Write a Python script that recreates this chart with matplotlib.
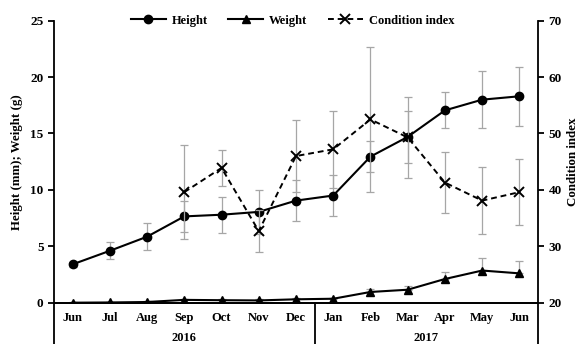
import numpy as np
import matplotlib.pyplot as plt

plt.rcParams['font.family'] = ['Liberation Serif', 'DejaVu Serif']
plt.rcParams['font.weight'] = 'bold'

# data
months = ['Jun', 'Jul', 'Aug', 'Sep', 'Oct', 'Nov', 'Dec',
          'Jan', 'Feb', 'Mar', 'Apr', 'May', 'Jun']
years = ['2016', '2017']
year_len = [7, 6]

height = [3.4, 4.6, 5.85, 7.65, 7.8, 8.05, 9.05, 9.5, 12.95, 14.7, 17.05, 18.0, 18.3]
height_err = [0.2, 0.77, 1.2, 1.35, 1.6, 1.95, 1.8, 1.8, 1.4, 2.3, 1.6, 2.5, 2.6]

weight = [0.0, 0.02, 0.06, 0.25, 0.22, 0.2, 0.3, 0.35, 0.95, 1.15, 2.1, 2.85, 2.6]
weight_err = [0.02, 0.02, 0.05, 0.1, 0.1, 0.1, 0.1, 0.1, 0.3, 0.33, 0.58, 1.1, 1.14]

cond = [np.nan, np.nan, np.nan, 39.6, 43.9, 32.7, 46.0, 47.2, 52.5, 49.3, 41.3, 38.1, 39.6]
cond_err = [np.nan, np.nan, np.nan, 8.3, 3.25, 3.7, 6.4, 6.8, 12.9, 7.2, 5.4, 5.9, 5.8]

x = np.arange(len(months))

fig = plt.figure(figsize=(5.78, 3.44), dpi=100)
ax = fig.add_axes([0.0934, 0.1201, 0.8374, 0.8197])
ax2 = ax.twinx()

ebar = dict(fmt='none', ecolor='#a6a6a6', elinewidth=0.9, capsize=3, capthick=0.9)

ax.errorbar(x, height, yerr=height_err, zorder=2, **ebar)
ax.errorbar(x, weight, yerr=[np.zeros(len(weight)), weight_err], zorder=2, **ebar)
ax.plot(x, height, '-o', color='black', lw=1.5, ms=6, zorder=3, label='Height')
ax.plot(x, weight, '-^', color='black', lw=1.5, ms=6, zorder=3, label='Weight')

ax2.errorbar(x, cond, yerr=cond_err, zorder=2, **ebar)
ax2.plot(x, cond, '--x', color='black', lw=1.4, ms=7, mew=1.4, dashes=(3, 2),
         zorder=3, label='Condition index')

ax.set_xlim(-0.5, len(months) - 0.5)
ax.set_ylim(0, 25)
ax.set_yticks([0, 5, 10, 15, 20, 25])
ax2.set_ylim(20, 70)
ax2.set_yticks([20, 30, 40, 50, 60, 70])

for a in (ax, ax2):
    a.spines['top'].set_visible(False)
    for s in a.spines.values():
        s.set_linewidth(1.3)
    a.tick_params(axis='y', direction='out', length=4, width=1.3, labelsize=9.5)
ax.spines['right'].set_visible(False)
ax2.spines['left'].set_visible(False)

ax.set_xticks(x)
ax.set_xticklabels(months, fontsize=9, fontweight='bold')
ax.tick_params(axis='x', length=0, pad=7)

ax.set_ylabel('Height (mm); Weight (g)', fontsize=9.3, fontweight='bold', labelpad=5)
ax2.set_ylabel('Condition index', fontsize=9.3, fontweight='bold', labelpad=4)

# multi-level category axis: separators and year labels
trans = ax.get_xaxis_transform()
bounds = np.concatenate([[0], np.cumsum(year_len)]) - 0.5
for b in bounds:
    ax.plot([b, b], [0, -0.16], transform=trans, color='black', lw=1.3, clip_on=False)
for i, yr in enumerate(years):
    ax.text((bounds[i] + bounds[i + 1]) / 2, -0.125, yr, transform=trans,
            ha='center', va='center', fontsize=9, fontweight='bold')

h1, l1 = ax.get_legend_handles_labels()
h2, l2 = ax2.get_legend_handles_labels()
fig.legend(h1 + h2, l1 + l2, loc='center', bbox_to_anchor=(0.506, 0.94), ncol=3,
           frameon=False, fontsize=9, handlelength=2.8, handletextpad=0.5,
           columnspacing=1.6, borderaxespad=0)

fig.savefig('out.png', dpi=100)
